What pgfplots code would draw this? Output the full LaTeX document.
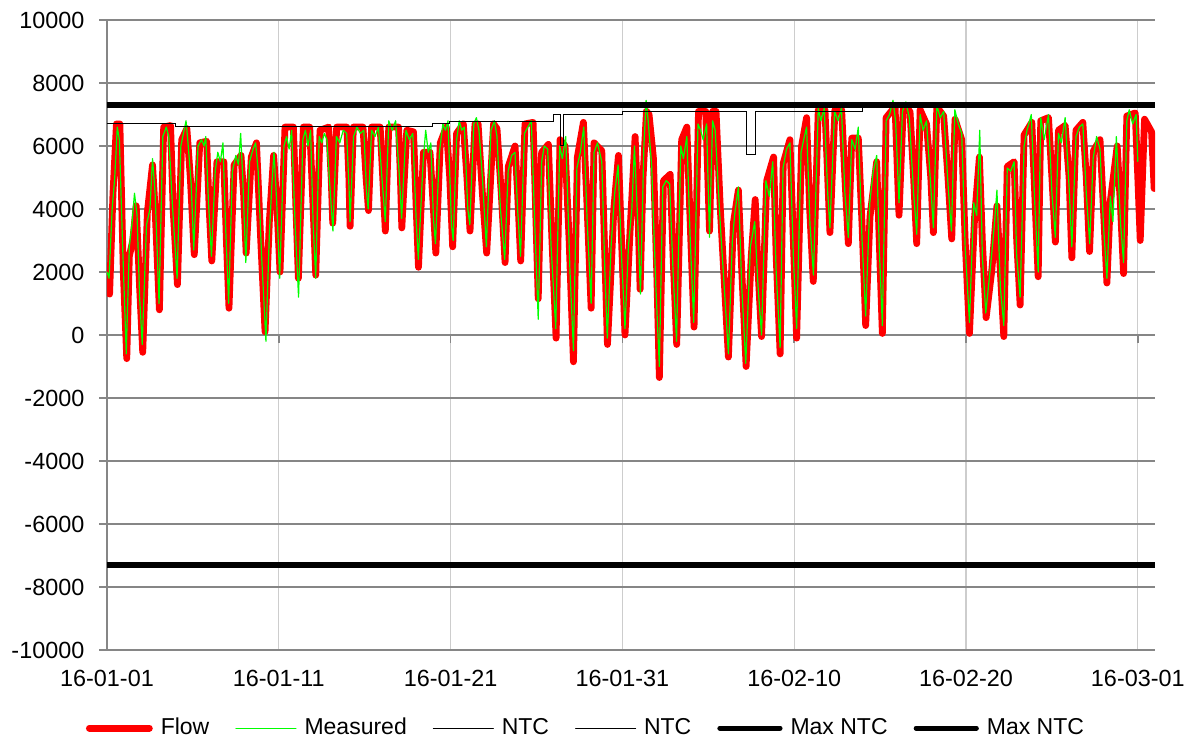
\documentclass[border=0pt]{standalone}
\usepackage{pgfplots}
\pgfplotsset{compat=1.18}
\usepackage{fontspec}
\setmainfont{Liberation Sans}
\definecolor{gridgray}{RGB}{134,134,134}
\definecolor{vgrid}{RGB}{205,205,205}
\definecolor{flowred}{RGB}{255,0,0}
\definecolor{measgreen}{RGB}{0,255,0}
\begin{document}
\begin{tikzpicture}
\begin{axis}[
  name=ax,
  scale only axis, width=524pt, height=315pt,
  xmin=0, xmax=61, ymin=-10000, ymax=10000,
  axis y line*=left, axis x line*=middle,
  hide obscured x ticks=false,
  scaled y ticks=false,
  axis line style={gridgray, line width=0.8pt},
  tick style={gridgray, line width=0.8pt},
  tick align=outside, major tick length=3.8pt,
  xtick={0,10,20,30,40,50,60},
  xticklabels={16-01-01,16-01-11,16-01-21,16-01-31,16-02-10,16-02-20,16-03-01},
  ytick={-10000,-8000,...,10000},
  yticklabels={-10000,-8000,-6000,-4000,-2000,0,2000,4000,6000,8000,10000},
  xmajorgrids, ymajorgrids,
  x grid style={vgrid, line width=0.6pt},
  y grid style={gridgray, line width=0.8pt},
  tick label style={font=\fontsize{11.7pt}{13.5pt}\selectfont, black},
  x tick label style={yshift=-160pt},
  y tick label style={xshift=-4pt},
  legend style={at={(0.458,-0.124)}, anchor=center, draw=none, fill=none,
    legend columns=6, font=\fontsize{11.5pt}{13.5pt}\selectfont,
    /tikz/every even column/.append style={column sep=11pt},
    /tikz/every odd column/.append style={column sep=2pt}},
  legend image code/.code={\draw[#1, line cap=round] (0pt,0pt) -- (30pt,0pt);},
  clip=true,
]
% Flow
\addplot[flowred, line width=3.4pt, line join=round, line cap=round] table {
x y
0.00 1500
0.15 1300
0.35 4500
0.55 6700
0.75 6700
0.95 2000
1.15 -750
1.30 2500
1.50 3000
1.70 4100
1.90 1500
2.08 -550
2.35 3900
2.65 5400
2.80 4000
3.05 800
3.30 6600
3.70 6650
3.85 4000
4.10 1600
4.35 6200
4.65 6550
4.85 5000
5.08 2550
5.40 6100
5.80 6150
5.95 4000
6.10 2350
6.40 5500
6.80 5500
6.95 3000
7.10 850
7.40 5400
7.80 5700
7.95 4500
8.10 2600
8.40 5650
8.70 6100
8.95 3000
9.20 100
9.45 3600
9.70 5700
9.90 4000
10.07 2000
10.36 6600
10.85 6600
11.00 4000
11.14 1800
11.43 6600
11.80 6600
12.00 4000
12.15 1900
12.40 6500
12.90 6600
13.05 5000
13.14 3550
13.37 6600
13.96 6600
14.08 5000
14.15 3450
14.34 6600
14.90 6600
15.08 5000
15.22 3950
15.40 6600
15.90 6600
16.05 5000
16.20 3300
16.40 6600
16.97 6600
17.08 5000
17.16 3400
17.45 6500
17.84 6450
18.00 4000
18.13 2150
18.42 5800
18.80 5800
19.00 4000
19.14 2600
19.40 6100
19.75 6600
19.95 5000
20.12 2800
20.35 6400
20.74 6700
20.95 5000
21.13 3300
21.42 6700
21.60 6700
21.85 4500
22.10 2600
22.50 6700
22.70 6550
22.95 4500
23.17 2300
23.36 5350
23.75 6000
23.90 4500
24.08 2350
24.33 6700
24.80 6750
24.95 4000
25.10 1150
25.30 5800
25.69 6050
25.90 3000
26.14 -100
26.37 6200
26.66 6000
26.90 3000
27.15 -850
27.38 5650
27.73 6750
27.95 4000
28.18 850
28.35 6100
28.80 5850
28.95 3000
29.13 -300
29.38 2500
29.50 4000
29.77 5700
29.95 3000
30.15 0
30.45 3350
30.74 6300
30.90 4000
31.03 1450
31.20 5000
31.40 7100
31.55 7000
31.80 5650
32.00 2000
32.15 -1350
32.39 4900
32.78 5100
32.95 2500
33.16 -300
33.45 6200
33.75 6600
33.95 3500
34.17 250
34.43 7100
34.85 7100
35.07 3300
35.25 7100
35.45 7100
35.70 4000
36.17 -700
36.46 3550
36.75 4600
36.95 2000
37.20 -1000
37.50 2500
37.73 4300
37.90 2000
38.10 -50
38.40 4900
38.80 5650
38.95 2500
39.18 -600
39.36 5450
39.75 6200
39.95 3000
40.14 -100
40.43 6000
40.72 6900
40.90 4000
41.11 1700
41.40 7150
41.79 7150
41.95 5000
42.08 3250
42.37 7150
42.76 7150
42.95 5000
43.15 2900
43.35 6250
43.73 6250
43.95 3500
44.16 300
44.41 3750
44.80 5500
44.95 3000
45.13 50
45.35 6900
45.87 7250
46.10 3800
46.35 7250
46.74 7100
46.95 5000
47.13 2900
47.33 7150
47.70 6700
47.95 5000
48.10 3250
48.30 7250
48.70 6950
48.95 5000
49.17 3050
49.36 6850
49.75 6200
49.95 3000
50.20 50
50.50 3750
50.78 5650
50.95 3000
51.17 550
51.50 2050
51.80 4100
52.00 2000
52.20 -50
52.40 5350
52.80 5500
52.95 3000
53.15 950
53.38 6350
53.83 6750
54.00 4500
54.20 1850
54.35 6800
54.80 6900
55.00 5000
55.20 2950
55.38 6500
55.77 6650
56.00 5000
56.16 2450
56.40 6500
56.80 6750
57.00 5000
57.19 2650
57.42 5850
57.80 6200
58.00 4000
58.20 1650
58.40 4250
58.80 6000
59.00 4000
59.17 1950
59.36 6950
59.85 7050
60.00 5000
60.14 3000
60.39 6850
60.80 6450
60.95 4650
};
\addlegendentry{Flow}
% Measured
\addplot[measgreen, line width=0.6pt, line join=round] table {
x y
0.00 2000
0.12 1800
0.30 4000
0.45 5000
0.60 6600
0.72 6200
0.90 3000
1.12 -600
1.30 2800
1.45 3500
1.60 4500
1.75 3800
1.90 1200
2.05 -300
2.30 3500
2.50 4000
2.65 5600
2.80 4500
3.03 1000
3.25 6300
3.45 6600
3.60 6300
3.80 4200
4.08 1800
4.30 6000
4.45 6400
4.60 6800
4.70 6200
4.90 4800
5.05 2700
5.30 6000
5.50 6200
5.65 6000
5.75 6300
5.90 4300
6.08 2500
6.30 5200
6.45 5800
6.60 5500
6.75 6100
6.90 3500
7.08 1000
7.30 5200
7.50 5700
7.65 5400
7.78 6400
7.90 5000
8.08 2300
8.30 5500
8.50 5900
8.65 6100
8.80 5200
9.00 2500
9.25 -200
9.45 3200
9.60 4800
9.72 5800
9.88 4200
10.05 1800
10.30 6000
10.45 6300
10.60 5900
10.75 6500
10.95 3500
11.15 1200
11.40 6200
11.55 6500
11.70 6000
11.85 6500
12.00 3500
12.15 1800
12.35 6300
12.50 6100
12.65 6400
12.80 6200
13.00 4500
13.15 3300
13.35 6300
13.55 6100
13.75 6500
13.95 6400
14.10 4500
14.15 3600
14.35 6300
14.55 6600
14.75 6400
14.95 6500
15.10 4600
15.20 4000
15.40 6500
15.60 6300
15.80 6600
16.00 5000
16.20 3600
16.40 6800
16.60 6500
16.80 6800
17.00 5200
17.15 3700
17.40 6500
17.60 6200
17.80 6400
18.00 3600
18.12 2400
18.40 5500
18.55 6500
18.70 5800
18.85 6100
19.00 3700
19.12 2900
19.35 5800
19.55 6700
19.70 6500
19.85 6800
20.05 3500
20.15 3000
20.35 6200
20.50 6800
20.65 6500
20.80 6600
21.00 4000
21.12 3500
21.35 6700
21.50 6900
21.65 6500
21.85 5000
22.08 2800
22.35 6500
22.55 6800
22.70 6300
22.90 4000
23.15 2400
23.35 5200
23.55 5700
23.75 5800
23.90 4000
24.07 2500
24.30 6400
24.50 6600
24.70 6800
24.90 3500
25.10 500
25.30 5500
25.45 6000
25.65 5900
25.85 2800
26.12 200
26.35 6000
26.50 5600
26.70 6300
26.95 2000
27.15 -500
27.35 5300
27.55 5800
27.75 6600
27.95 3600
28.18 1000
28.35 5800
28.55 6100
28.80 5500
28.98 2000
29.12 -100
29.35 2900
29.55 4500
29.75 5400
29.95 2500
30.15 200
30.35 2800
30.55 4000
30.70 6000
30.90 3500
31.05 1300
31.25 6000
31.38 7450
31.50 6800
31.70 5400
31.95 1500
32.15 -1000
32.35 4700
32.55 4900
32.75 4800
32.95 2000
33.15 -200
33.40 6000
33.55 5600
33.75 6300
33.95 3000
34.15 400
34.40 6700
34.55 6500
34.70 6200
34.90 6700
35.07 3100
35.25 6800
35.40 6500
35.70 3500
36.17 -600
36.40 3000
36.55 3900
36.75 4700
36.95 1500
37.18 -900
37.45 2800
37.70 3600
37.90 1500
38.10 0
38.35 4900
38.55 4400
38.75 5500
38.95 2000
39.18 -400
39.35 5300
39.55 5900
39.75 6100
39.95 2500
40.14 200
40.40 5800
40.55 6200
40.72 6600
40.92 3500
41.12 1900
41.40 7200
41.55 6800
41.75 7200
41.95 4500
42.08 3400
42.35 7100
42.55 6800
42.75 7200
42.95 4500
43.15 3100
43.35 6200
43.55 5900
43.73 6600
43.95 3000
44.16 600
44.40 4200
44.60 5200
44.80 5700
44.95 2800
45.13 300
45.35 6800
45.55 7000
45.75 7450
45.90 6800
46.10 4200
46.30 7100
46.50 7400
46.70 6900
46.95 4500
47.13 3200
47.33 7000
47.50 6500
47.70 6800
47.95 4700
48.10 3400
48.30 7300
48.50 6900
48.70 7100
48.95 4800
49.15 3300
49.35 7150
49.55 6700
49.75 6400
49.95 2800
50.20 400
50.45 4200
50.62 3800
50.80 6500
50.95 2500
51.15 700
51.45 2300
51.65 3500
51.80 4600
52.00 1500
52.20 300
52.40 5300
52.60 5200
52.80 5500
52.95 2500
53.15 1200
53.38 6000
53.55 6500
53.80 7000
54.00 4200
54.20 2000
54.35 6900
54.55 6200
54.80 7000
55.00 4500
55.20 3100
55.38 6400
55.55 6100
55.77 6900
56.00 4700
56.16 2800
56.40 6300
56.60 6600
56.80 6700
57.00 4500
57.20 2900
57.40 5600
57.60 6300
57.80 5900
58.00 3500
58.20 1800
58.40 4400
58.55 3600
58.75 6300
59.00 3500
59.17 2300
59.36 6800
59.50 7150
59.70 6700
59.90 7000
60.00 5500
};
\addlegendentry{Measured}
% NTC (step)
\addplot[black, line width=0.5pt] table {
x y
0 6720
3.96 6720
3.96 6615
18.93 6615
18.93 6720
19.96 6720
19.96 6790
25.98 6790
25.98 7000
26.41 7000
26.41 6030
26.56 6030
26.56 7000
29.99 7000
29.99 7100
37.23 7100
37.23 5715
37.72 5715
37.72 7100
43.98 7100
43.98 7300
61 7300
};
\addlegendentry{NTC}
% NTC (negative direction)
\addplot[black, line width=0.5pt] table {
x y
0 -7300
61 -7300
};
\addlegendentry{NTC}
% Max NTC
\addplot[black, line width=2.6pt] table {
x y
0 7300
61 7300
};
\addlegendentry{Max NTC}
\addplot[black, line width=2.6pt] table {
x y
0 -7300
61 -7300
};
\addlegendentry{Max NTC}
\end{axis}
\pgfresetboundingbox
\path ([shift={(-53.5pt,-46.5pt)}]ax.south west) rectangle ([shift={(16.5pt,10pt)}]ax.north east);
\end{tikzpicture}
\end{document}
